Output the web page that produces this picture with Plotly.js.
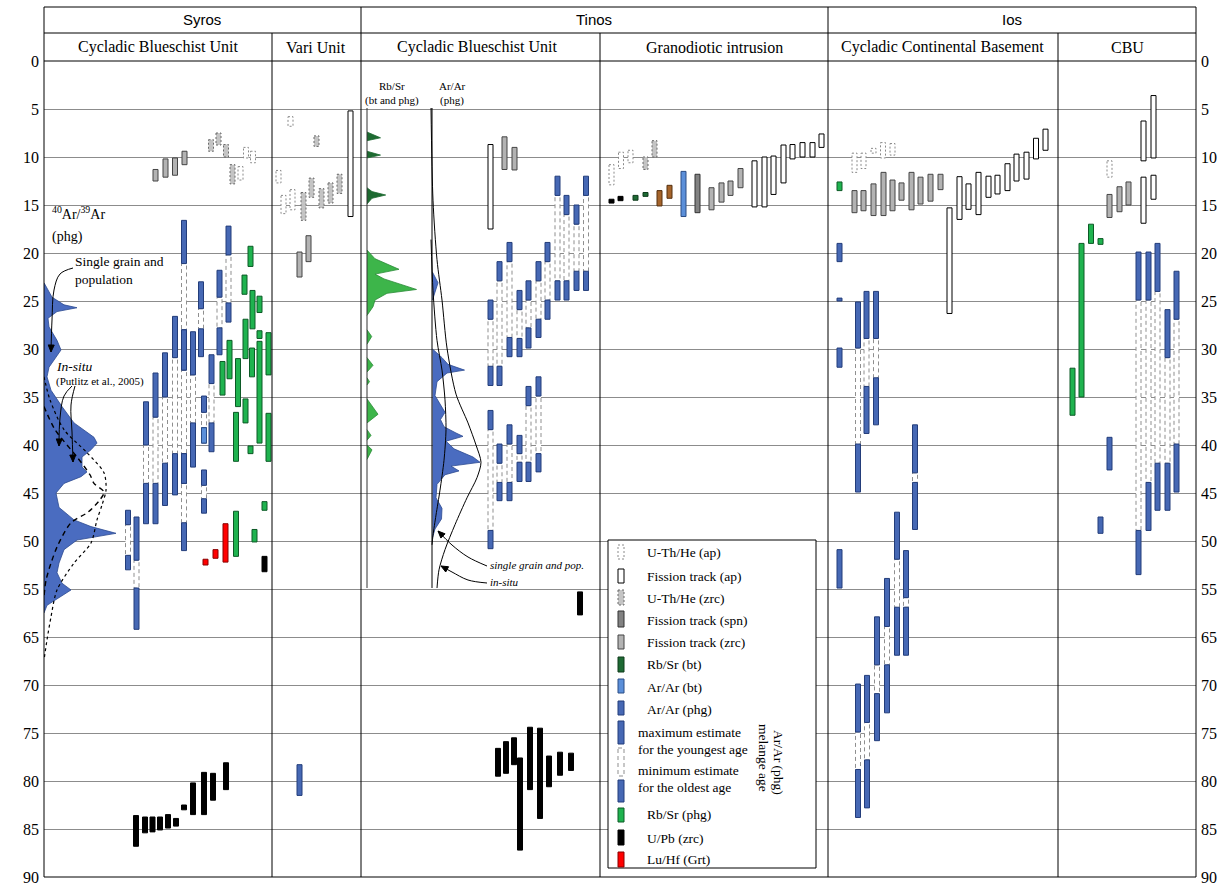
<!DOCTYPE html>
<html><head><meta charset="utf-8">
<script src="https://cdn.plot.ly/plotly-3.0.1.min.js"></script>
<style>html,body{margin:0;padding:0;background:#fff}#chart{width:1223px;height:886px}</style>
</head><body><div id="chart"></div>
<script>
// ---------- axis ticks ----------
const tickPos  = [0,5,10,15,20,25,30,35,40,45,50,55,60,65,70,75,80,85];
const tickText = ['0','5','10','15','20','25','30','35','40','45','50','55','65','70','75','80','85','90'];

// ---------- panel headings ----------
const regions = ['Syros','Tinos','Ios'];
const units = ['Cycladic Blueschist Unit','Vari Unit','Cycladic Blueschist Unit','Granodiotic intrusion','Cycladic Continental Basement','CBU'];

// ---------- age bars (sample position, age from, age to) ----------
const uthApX    = [246,253,240.5,290.5,278.5,283.5,292.5,611.5,621,630.5,854.5,863.5,873.5,883,892.5,1109.5];
const uthApFrom = [9.0,9.4,11.0,5.8,11.4,14.0,13.4,10.8,9.5,9.3,9.6,9.6,9.1,8.5,8.6,10.4];
const uthApTo   = [10.1,10.6,12.4,6.8,12.7,15.9,15.5,12.9,11.2,10.6,11.6,11.2,9.6,10.1,9.8,12.1];

const ftApX    = [350.5,490.5,754.5,764.5,773.5,783.5,792.5,802.5,812.5,821.5,949.5,959.5,968.5,978.5,988.5,997.5,1007.5,1016.5,1026.5,1036,1045.5,1143.5,1153.5,1143.5,1153.5];
const ftApFrom = [5.2,8.7,10.4,10.0,9.9,8.75,8.7,8.5,8.5,7.6,15.3,12.05,12.8,11.6,12.0,11.9,10.7,9.7,9.5,8.05,7.1,6.25,3.6,12.1,11.9];
const ftApTo   = [16.2,17.5,15.2,15.2,13.9,12.7,10.2,10.0,10.0,9.0,26.3,16.5,15.45,16.0,14.2,13.85,13.5,12.5,12.3,10.2,9.3,10.4,10.1,16.9,14.4];

const uthZrcX    = [211,218.5,226,232.5,316.5,303.5,311.5,321.5,330.5,339.5,645.5,654.5];
const uthZrcFrom = [8.2,7.5,8.7,10.8,7.8,13.7,12.2,13.3,12.7,11.8,10.0,8.3];
const uthZrcTo   = [9.4,8.75,10.0,12.8,8.9,16.6,14.2,15.3,14.8,13.8,11.3,10.0];

const ftSpnX = [697.5], ftSpnFrom = [11.8], ftSpnTo = [15.8];

const ftZrcX    = [155.5,165.5,175,184.5,308.5,299.5,504.5,514.5,711.5,721.5,730.5,740.5,854.5,863.5,873.5,883.5,892.5,901.5,911.5,920.5,930.5,940.5,1109.5,1119.5,1128.5];
const ftZrcFrom = [11.3,10.2,10.1,9.4,18.2,19.9,7.9,9.0,13.2,12.7,12.5,11.2,13.5,13.5,12.8,11.6,12.4,12.7,11.6,12.1,11.8,11.8,13.9,13.1,12.6];
const ftZrcTo   = [12.5,12.1,11.9,10.8,20.9,22.5,11.3,11.35,15.5,14.7,14.0,13.2,15.8,15.6,16.1,16.1,15.6,14.5,15.5,14.9,14.6,13.4,16.3,15.7,15.0];

const rbsrBtX = [635.5,645.5], rbsrBtFrom = [14.0,13.7], rbsrBtTo = [14.5,14.1];
const arBtX = [683.5,204], arBtFrom = [11.5,38.2], arBtTo = [16.2,39.8];
const brownX = [659.5,669.5], brownFrom = [13.5,12.95], brownTo = [15.1,14.3];

const arPhgX    = [299.5,839.5,839.5,839.5,839.5,1109.5,1100.5];
const arPhgFrom = [73.3,19.0,24.7,29.9,50.9,39.2,47.5];
const arPhgTo   = [76.5,20.9,25.0,31.9,54.9,42.6,49.2];

// Ar/Ar (phg) melange ages: youngest (max estimate) and oldest (min estimate)
const melX = [128,136.5,146,155.5,165,175,184,184,184,193,201,204,204,211.5,219.5,228.5,
  490.5,490.5,499.5,499.5,509.5,509.5,519.5,519.5,528.5,528.5,538.5,538.5,547.5,557.5,566.5,576.5,586,
  858,866.5,876,915,897,906,887,877,867,858,
  1138.5,1148.5,1157.5,1167.5,1176.5];
const melYoungFrom = [46.8,47.5,35.5,32.5,30.4,26.6,16.6,28.0,40.9,28.2,23.0,34.9,42.6,30.6,21.8,17.2,
  24.9,36.4,20.9,39.9,18.9,37.9,23.9,39.0,22.9,33.9,20.9,32.9,18.9,12.0,14.0,15.0,12.0,
  25.1,24.0,24.0,37.9,47.0,51.0,53.9,57.9,64.0,64.9,
  19.9,19.9,19.0,25.9,21.9];
const melYoungTo = [48.3,52.0,40.0,37.1,35.0,30.9,21.1,32.2,44.0,32.7,25.8,36.6,44.2,33.6,24.6,20.2,
  26.9,38.4,22.9,41.9,20.9,39.9,25.9,40.9,24.9,35.9,22.9,34.9,20.9,14.0,16.0,17.0,14.0,
  29.9,28.9,28.9,42.9,51.9,55.9,58.9,62.9,68.9,69.9,
  24.9,24.9,24.0,30.9,26.9];
const melOldFrom = [51.5,54.9,44.0,44.0,41.9,40.9,28.0,40.9,48.1,37.7,27.9,38.2,45.6,37.7,27.8,25.2,
  31.8,48.9,31.8,43.9,28.8,43.9,28.9,41.8,27.8,41.8,26.9,40.9,24.9,22.9,22.9,21.9,21.9,
  39.9,33.9,33.0,43.9,56.9,56.9,62.9,65.9,72.8,73.8,
  48.9,43.9,41.9,41.9,39.9];
const melOldTo = [53.0,59.2,48.2,48.2,46.3,45.2,32.2,44.0,51.0,42.3,30.8,39.8,47.1,40.7,30.6,27.2,
  33.8,50.8,33.8,45.8,30.8,45.8,30.8,43.8,29.9,43.8,28.8,42.8,26.9,24.9,24.9,23.9,23.9,
  44.9,38.8,37.9,48.8,61.9,61.9,67.9,70.8,77.8,78.8,
  53.5,48.9,46.8,46.8,44.9];

const rbsrPhgX    = [250.5,244.5,252.5,259.5,245.5,259.5,268.5,229.5,222.5,238,245.5,252,259.5,268.5,236,250.5,264.5,236,254.5,839.5,1091,1100.5,1081.5,1072.5];
const rbsrPhgFrom = [19.3,22.3,23.9,24.5,26.9,28.1,28.3,29.1,31.3,31.0,35.2,29.9,29.2,36.7,36.6,40.1,45.9,46.9,48.8,12.6,17.0,18.5,19.0,32.0];
const rbsrPhgTo   = [21.4,24.3,27.9,26.2,31.0,28.9,32.7,33.1,34.8,36.0,37.7,32.9,39.8,41.7,41.7,40.9,46.8,51.6,50.1,13.5,19.0,19.1,35.0,36.9];

const upbX    = [264.5,136,145,152.5,160,168,176,184,193,204,213,226,498,506,514,520,530,540,549,560,571,580,611.5,620.5];
const upbFrom = [51.6,78.6,78.75,78.75,78.75,78.5,78.9,77.5,75.2,74.1,74.2,73.1,71.6,70.9,70.5,72.6,69.4,69.5,72.4,72.0,72.1,55.3,14.4,14.1];
const upbTo   = [53.2,81.8,80.4,80.3,80.1,79.9,79.7,78.0,78.5,78.5,77.0,75.9,74.5,74.2,73.3,82.2,75.9,78.9,75.6,74.4,73.9,57.7,14.8,14.55];

const luhfX = [205.5,215.5,225.5], luhfFrom = [51.9,50.9,48.2], luhfTo = [52.5,51.8,52.2];

// ---------- probability density curves ----------
const syrosDensAge = [23.1,24.6,25.4,25.7,26.1,26.8,27.7,29.1,30.1,30.8,31.9,32.9,34.3,36.0,37.7,39.2,39.8,40.5,41.25,42.3,42.8,43.3,44.0,45.0,46.5,47.8,48.5,49.2,49.9,50.9,52.3,53.3,54.4,55.1,55.8,56.7,57.5];
const syrosDensAmp = [0,8,20,33,13,4,5,13,17,12,5,3,7,18,30,50,53,47,38,38,43,37,20,12,15,30,47,72,33,20,15,13,18,27,17,3,0];
const syrosDashAge = [36.0,38.4,41.25,43.1,44.0,44.9,45.7,47.0,48.1,50.4,52.3,54.1,55.8];
const syrosDashAmp = [0,11,33,46,50,60,56,44,27,14,7,2,0];
const syrosDotAge  = [32.9,35.3,38.4,40.8,42.9,44.7,46.25,47.8,50.2,52.3,55.1,57.9,60.3,62.4];
const syrosDotAmp  = [0,6,20,43,60,62,58,53,47,30,13,7,3,0];

const tinosBtAge = [7.4,8.0,8.3,null,9.4,9.8,10.1,null,13.2,13.6,13.96,14.3,14.9];
const tinosBtAmp = [0,13.5,0,null,0,13.5,0,null,0,5,18.7,5,0];
const tinosPhgRbAge = [19.7,20.6,21.7,22.2,22.7,23.8,24.2,24.9,25.6,26.5,null,28.0,28.7,29.5,null,30.9,31.7,32.4,null,33.0,33.4,33.75,null,35.2,36.8,37.7,null,38.4,39.0,39.5,null,40.0,40.5,41.5];
const tinosPhgRbAmp = [0,8,32,8,17,49.5,20,8,6,0,null,0,4.7,0,null,0,6,0,null,0,2.5,0,null,0,11,0,null,0,4,0,null,0,5,0];
const tinosArAge = [22.0,23.1,24.9,null,30.0,30.9,31.6,32.2,32.5,33.4,34.85,35.9,36.6,37.35,38.1,38.75,39.1,39.6,40.4,41.25,41.8,42.2,42.7,43.1,44.1,45.5,46.6,47.7,48.75,49.65];
const tinosArAmp = [0,5.5,0,null,0,9.5,15.5,32,14.5,4.5,2.5,8,12.5,8,11.5,23.5,30.5,13.5,21.5,40.5,47.5,18.5,26.5,12.5,4.5,3.5,9.5,9,2.5,0];
const tinosInsituAge = [4.9,14.5,20.7,24.9,29.9,34.7,37.7,40.0,41.8,43.4,45.5,48.3,50.9,53.0,54.9];
const tinosInsituAmp = [0,2,6,11,16,25,37,45,50,46,36,24,14,8,6];
const tinosSingleAge = [18.6,23.9,29.1,32.2,35.3,38.4,41.6,44.7,47.3,49.4,50.4];
const tinosSingleAmp = [0,2,6,11,14,15,13,9,5,2,1];

// ---------- styles ----------
const BW = 5;
const TOP = 61, PXV = 9.6, LEFT = 44, WIDTH = 1152, BOT = 877;
const S = {
  uthAp:  {fill:'#ffffff', line:'#8a8a8a', dash:'2px,2px'},
  ftAp:   {fill:'#ffffff', line:'#000000', dash:'solid'},
  uthZrc: {fill:'#c4c4c4', line:'#6a6a6a', dash:'2px,2px'},
  ftSpn:  {fill:'#828282', line:'#333333', dash:'solid'},
  ftZrc:  {fill:'#b3b3b3', line:'#454545', dash:'solid'},
  rbsrBt: {fill:'#1e6a34', line:'#0e3a1b', dash:'solid'},
  arBt:   {fill:'#5b8fd9', line:'#2b4d85', dash:'solid'},
  arPhg:  {fill:'#4668b4', line:'#233d7a', dash:'solid'},
  rbsrPhg:{fill:'#1fb34f', line:'#0c5a26', dash:'solid'},
  upb:    {fill:'#000000', line:'#000000', dash:'solid'},
  luhf:   {fill:'#ff0000', line:'#8a0000', dash:'solid'},
  brown:  {fill:'#a5642b', line:'#553010', dash:'solid'},
  mel:    {fill:'#ffffff', line:'#8f8f8f', dash:'4px,3px'}
};
const FONT_SERIF = 'Liberation Serif, Times New Roman, serif';
const FONT_SANS = 'Liberation Sans, Arial, sans-serif';

function rectTrace(xs, from, to, st) {
  const X = [], Y = [];
  for (let i = 0; i < xs.length; i++) {
    const a = xs[i] - BW/2, b = xs[i] + BW/2;
    X.push(a, b, b, a, a, null);
    Y.push(from[i], from[i], to[i], to[i], from[i], null);
  }
  return {type:'scatter', mode:'lines', x:X, y:Y, fill:'toself', fillcolor:st.fill,
    line:{color:st.line, width:1, dash:st.dash}, hoverinfo:'skip', showlegend:false};
}
function densTrace(ages, amps, base, fill, line) {
  return {type:'scatter', mode:'lines', x:amps.map(a => a === null ? null : base + a), y:ages,
    fill:'toself', fillcolor:fill, line:{color:line, width:0.8}, hoverinfo:'skip', showlegend:false};
}
function curveTrace(ages, amps, base, dash, w) {
  return {type:'scatter', mode:'lines', x:amps.map(a => base + a), y:ages,
    line:{color:'#000', width:w || 1, dash:dash || 'solid', shape:'spline', smoothing:0.8},
    hoverinfo:'skip', showlegend:false};
}
const v = py => (py - TOP) / PXV;
function arrowTrace(pts) { // pts in pixels; last point is the tip
  const xs = pts.map(p => p[0]), ys = pts.map(p => v(p[1]));
  const n = pts.length, tip = pts[n-1], prev = pts[n-2];
  let dx = tip[0]-prev[0], dy = tip[1]-prev[1]; const L = Math.hypot(dx, dy); dx /= L; dy /= L;
  const bx = tip[0]-dx*7, by = tip[1]-dy*7, nx = -dy*3, ny = dx*3;
  return [
    {type:'scatter', mode:'lines', x:xs, y:ys, line:{color:'#000', width:1, shape:'spline'}, hoverinfo:'skip', showlegend:false},
    {type:'scatter', mode:'lines', x:[tip[0], bx+nx, bx-nx, tip[0]], y:[v(tip[1]), v(by+ny), v(by-ny), v(tip[1])],
     fill:'toself', fillcolor:'#000', line:{color:'#000', width:1}, hoverinfo:'skip', showlegend:false}
  ];
}

const traces = [];
traces.push(densTrace(syrosDensAge, syrosDensAmp, 44, '#4a6cc0', '#2c4a90'));
traces.push(densTrace(tinosBtAge, tinosBtAmp, 367, '#1d6a31', '#1d6a31'));
traces.push(densTrace(tinosPhgRbAge, tinosPhgRbAmp, 367, '#3db54a', '#2a8a36'));
traces.push(densTrace(tinosArAge, tinosArAmp, 432.5, '#4a6cc0', '#2c4a90'));
traces.push(curveTrace(syrosDashAge, syrosDashAmp, 44, '5px,4px', 1.4));
traces.push(curveTrace(syrosDotAge, syrosDotAmp, 44, 'dot', 1.2));
traces.push(curveTrace(tinosInsituAge, tinosInsituAmp, 431, 'solid', 1));
traces.push(curveTrace(tinosSingleAge, tinosSingleAmp, 431, 'solid', 1));
traces.push(...arrowTrace([[73,268],[60,274],[54,290],[52,320],[51,352]]));
traces.push(...arrowTrace([[72,386],[64,396],[60,418],[59,446]]));
traces.push(...arrowTrace([[75,386],[71,405],[72,432],[73,462]]));
traces.push(...arrowTrace([[487,566],[468,557],[452,545],[438,531]]));
traces.push(...arrowTrace([[487,583],[468,580],[452,572],[441,566]]));

// melange: dashed link, then youngest and oldest bars
traces.push(rectTrace(melX, melYoungTo, melOldFrom, S.mel));
traces.push(rectTrace(melX, melYoungFrom, melYoungTo, S.arPhg));
traces.push(rectTrace(melX, melOldFrom, melOldTo, S.arPhg));

traces.push(rectTrace(uthApX, uthApFrom, uthApTo, S.uthAp));
traces.push(rectTrace(ftApX, ftApFrom, ftApTo, S.ftAp));
traces.push(rectTrace(uthZrcX, uthZrcFrom, uthZrcTo, S.uthZrc));
traces.push(rectTrace(ftSpnX, ftSpnFrom, ftSpnTo, S.ftSpn));
traces.push(rectTrace(ftZrcX, ftZrcFrom, ftZrcTo, S.ftZrc));
traces.push(rectTrace(rbsrBtX, rbsrBtFrom, rbsrBtTo, S.rbsrBt));
traces.push(rectTrace(arBtX, arBtFrom, arBtTo, S.arBt));
traces.push(rectTrace(brownX, brownFrom, brownTo, S.brown));
traces.push(rectTrace(arPhgX, arPhgFrom, arPhgTo, S.arPhg));
traces.push(rectTrace(rbsrPhgX, rbsrPhgFrom, rbsrPhgTo, S.rbsrPhg));
traces.push(rectTrace(upbX, upbFrom, upbTo, S.upb));
traces.push(rectTrace(luhfX, luhfFrom, luhfTo, S.luhf));
traces.push({type:'scatter', mode:'markers', x:[100], y:[0], yaxis:'y2', marker:{opacity:0}, hoverinfo:'skip', showlegend:false});

// ---------- layout helpers (pixel -> paper) ----------
const PX = px => (px - LEFT) / WIDTH;
const PY = py => (BOT - py) / (BOT - TOP);
const shapes = [];
function sline(x0, y0, x1, y1, color, w, dash) {
  shapes.push({type:'line', xref:'paper', yref:'paper', x0:PX(x0), y0:PY(y0), x1:PX(x1), y1:PY(y1),
    line:{color:color || '#000', width:w || 1, dash:dash || 'solid'}, layer:'above'});
}
function srect(x0, y0, x1, y1, st) {
  shapes.push({type:'rect', xref:'paper', yref:'paper', x0:PX(x0), y0:PY(y0), x1:PX(x1), y1:PY(y1),
    fillcolor:st.fill, line:{color:st.line, width:1, dash:st.dash}, layer:'above'});
}
const annotations = [];
function txt(text, px, py, size, opts) {
  annotations.push(Object.assign({xref:'paper', yref:'paper', x:PX(px), y:PY(py), text:text, showarrow:false,
    xanchor:'center', yanchor:'middle', font:{family:FONT_SERIF, size:size, color:'#000'}}, opts || {}));
}

// frame
sline(44, 7, 1196, 7); sline(44, 33, 1196, 33); sline(44, 61, 1196, 61);
sline(44, 7, 44, 877); sline(1196, 7, 1196, 877); sline(44, 877, 1196, 877);
sline(361, 7, 361, 877); sline(828, 7, 828, 877);
sline(272, 33, 272, 877); sline(600, 33, 600, 877); sline(1058, 33, 1058, 877);
sline(367, 108, 367, 588, '#333'); sline(432, 108, 432, 588, '#000');

// legend box
srect(608, 540, 816, 868, {fill:'#ffffff', line:'#000', dash:'solid'});
const legItems = [
  ['U-Th/He (ap)', S.uthAp, 545, 559, 552],
  ['Fission track (ap)', S.ftAp, 569, 583, 576],
  ['U-Th/He (zrc)', S.uthZrc, 590, 605, 598],
  ['Fission track (spn)', S.ftSpn, 611, 627, 620],
  ['Fission track (zrc)', S.ftZrc, 635, 649, 642],
  ['Rb/Sr (bt)', S.rbsrBt, 657, 672, 664],
  ['Ar/Ar (bt)', S.arBt, 679, 693, 687],
  ['Ar/Ar (phg)', S.arPhg, 701, 715, 709],
  ['Rb/Sr (phg)', S.rbsrPhg, 808, 822, 814],
  ['U/Pb (zrc)', S.upb, 830, 845, 838],
  ['Lu/Hf (Grt)', S.luhf, 852, 867, 859]
];
legItems.forEach(it => {
  srect(618, it[2], 624, it[3], it[1]);
  txt(it[0], 645, it[4], 13.5, {xanchor:'left'});
});
srect(618, 721, 624, 744, S.arPhg);
srect(618, 748, 624, 776, S.mel);
srect(618, 780, 624, 802, S.arPhg);
txt('maximum estimate', 636, 732, 13.5, {xanchor:'left'});
txt('for the youngest age', 636, 749, 13.5, {xanchor:'left'});
txt('minimum estimate', 636, 770, 13.5, {xanchor:'left'});
txt('for the oldest age', 636, 787, 13.5, {xanchor:'left'});
txt('Ar/Ar (phg)', 779, 762, 13.5, {textangle:90});
txt('melange age', 764, 758, 13.5, {textangle:90});

// headings
txt(regions[0], 202, 20, 15, {font:{family:FONT_SANS, size:15, color:'#000'}});
txt(regions[1], 594, 20, 15, {font:{family:FONT_SANS, size:15, color:'#000'}});
txt(regions[2], 1012, 20, 15, {font:{family:FONT_SANS, size:15, color:'#000'}});
txt(units[0], 158, 47, 16); txt(units[1], 316, 47, 16); txt(units[2], 477, 47, 16);
txt(units[3], 714, 47, 16); txt(units[4], 942, 47, 16); txt(units[5], 1127, 47, 16);

// Syros density labels
txt('<sup>40</sup>Ar/<sup>39</sup>Ar', 50, 213, 14, {xanchor:'left'});
txt('(phg)', 50, 237, 14, {xanchor:'left'});
txt('Single grain and', 73, 261, 13.5, {xanchor:'left'});
txt('population', 73, 279, 13.5, {xanchor:'left'});
txt('<i>In-situ</i>', 54, 366, 13.5, {xanchor:'left'});
txt('(Putlitz et al., 2005)', 54, 381, 11, {xanchor:'left'});
// Tinos density labels
txt('Rb/Sr', 392, 86, 11); txt('(bt and phg)', 392, 100, 11);
txt('Ar/Ar', 452, 86, 11); txt('(phg)', 452, 100, 11);
txt('<i>single grain and pop.</i>', 488, 565, 11, {xanchor:'left'});
txt('<i>in-situ</i>', 488, 582, 11, {xanchor:'left'});

const yax = {range:[85, 0], tickvals:tickPos, ticktext:tickText, showgrid:true, gridcolor:'#8c8c8c', gridwidth:1,
  zeroline:false, showline:false, ticks:'', ticklabelstandoff:4, tickfont:{family:FONT_SERIF, size:16, color:'#000'}, fixedrange:true};
const layout = {
  width:1223, height:886, margin:{l:44, r:27, t:61, b:9, pad:0},
  paper_bgcolor:'#fff', plot_bgcolor:'#fff', showlegend:false,
  xaxis:{range:[44, 1196], visible:false, fixedrange:true},
  yaxis:yax,
  yaxis2:Object.assign({}, yax, {overlaying:'y', side:'right', showgrid:false, anchor:'x'}),
  shapes:shapes, annotations:annotations
};
Plotly.newPlot('chart', traces, layout, {staticPlot:true, displayModeBar:false});
</script></body></html>
